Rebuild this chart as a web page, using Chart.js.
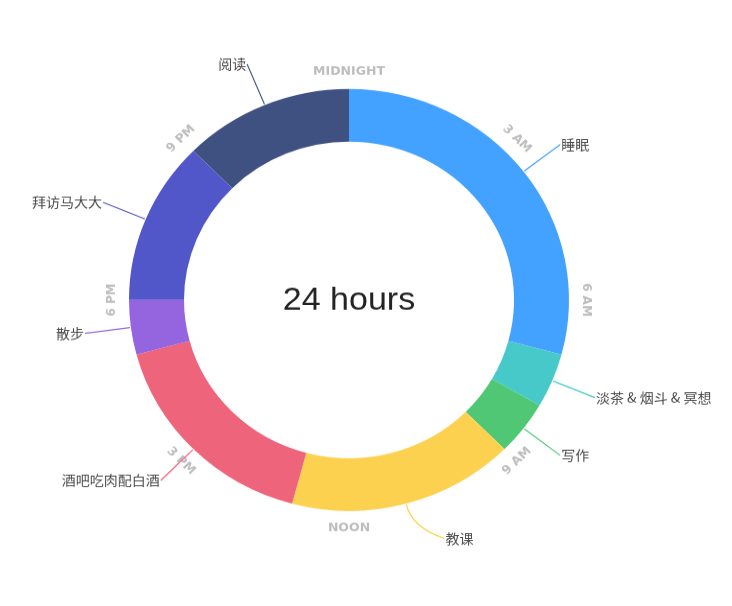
<!DOCTYPE html>
<html>
<head>
<meta charset="utf-8">
<script src="https://cdn.jsdelivr.net/npm/chart.js@4"></script>
<style>
  html, body { margin: 0; padding: 0; background: #ffffff; overflow: hidden; }
  #wrap { width: 732px; height: 606px; overflow: hidden; }
  #c { display: block; transform: scaleY(0.9589); transform-origin: 0 0; }
</style>
</head>
<body>
<div id="wrap"><canvas id="c" width="732" height="632"></canvas></div>
<script>
const activities = ['睡眠', '淡茶 & 烟斗 & 冥想', '写作', '教课', '酒吧吃肉配白酒', '散步', '拜访马大大', '阅读'];
const hours = [7, 1, 1, 4, 4, 1, 3, 3];
const colors = ['#43A1FF', '#47C9C9', '#50C774', '#FCD14F', '#EE647A', '#9564DF', '#5156C8', '#3F5181'];
const hourTicks = ['MIDNIGHT', '3 AM', '6 AM', '9 AM', 'NOON', '3 PM', '6 PM', '9 PM'];
const centerLabel = '24 hours';

const ringLabels = {
  id: 'ringLabels',
  afterDraw(chart, args, opts) {
    const ctx = chart.ctx;
    const meta = chart.getDatasetMeta(0);
    const arcs = meta.data;
    if (!arcs.length) return;
    const cx = arcs[0].x, cy = arcs[0].y;
    const R = arcs[0].outerRadius;
    const start = arcs[0].startAngle;

    // center text
    ctx.save();
    ctx.fillStyle = '#232323';
    ctx.font = '34px "Liberation Sans", Arial, sans-serif';
    ctx.textAlign = 'center';
    ctx.textBaseline = 'middle';
    ctx.fillText(centerLabel, cx, cy + 1);
    ctx.restore();

    // hour ticks around ring
    const tickR = R * 1.08;
    ctx.save();
    ctx.fillStyle = '#BDBDBD';
    ctx.font = 'bold 12.5px "DejaVu Sans", sans-serif';
    ctx.textAlign = 'center';
    ctx.textBaseline = 'middle';
    hourTicks.forEach((t, i) => {
      const a = start + (2 * Math.PI) * (i / hourTicks.length);
      const deg = (i / hourTicks.length) * 360;
      let rot = deg;
      if (deg > 90 && deg < 270) rot = deg - 180;
      ctx.save();
      ctx.translate(cx + tickR * Math.cos(a), cy + tickR * Math.sin(a));
      ctx.rotate(rot * Math.PI / 180);
      ctx.fillText(t, 0, 0);
      ctx.restore();
    });
    ctx.restore();

    // leader labels
    const nudge = opts.nudgeDeg || {};
    ctx.save();
    ctx.lineWidth = 1.2;
    ctx.font = '14px "Noto Sans CJK SC", sans-serif';
    ctx.textBaseline = 'middle';
    arcs.forEach((arc, i) => {
      const mid = (arc.startAngle + arc.endAngle) / 2;
      const sx = cx + (R + 1) * Math.cos(mid);
      const sy = cy + (R + 1) * Math.sin(mid);
      const la = mid + ((nudge[i] || 0) * Math.PI / 180);
      const ex = cx + R * 1.21 * Math.cos(la);
      const ey = cy + R * 1.21 * Math.sin(la);
      ctx.strokeStyle = colors[i];
      ctx.beginPath();
      ctx.moveTo(sx, sy);
      if (nudge[i]) {
        const qx = cx + R * 1.12 * Math.cos(mid);
        const qy = cy + R * 1.12 * Math.sin(mid);
        ctx.quadraticCurveTo(qx, qy, ex, ey);
      } else {
        ctx.lineTo(ex, ey);
      }
      ctx.stroke();
      ctx.fillStyle = '#4A4A4A';
      if (ex >= cx) {
        ctx.textAlign = 'left';
        ctx.fillText(activities[i], ex + 1, ey);
      } else {
        ctx.textAlign = 'right';
        ctx.fillText(activities[i], ex - 1, ey);
      }
    });
    ctx.restore();
  }
};

new Chart(document.getElementById('c'), {
  type: 'doughnut',
  data: {
    labels: activities,
    datasets: [{
      data: hours,
      backgroundColor: colors,
      borderWidth: 0,
      hoverOffset: 0
    }]
  },
  options: {
    responsive: false,
    animation: false,
    cutout: '75%',
    layout: { padding: { left: 129, right: 163, top: 92.8, bottom: 99.2 } },
    plugins: {
      legend: { display: false },
      tooltip: { enabled: false },
      ringLabels: { nudgeDeg: { 3: -6 } }
    }
  },
  plugins: [ringLabels]
});
</script>
</body>
</html>
